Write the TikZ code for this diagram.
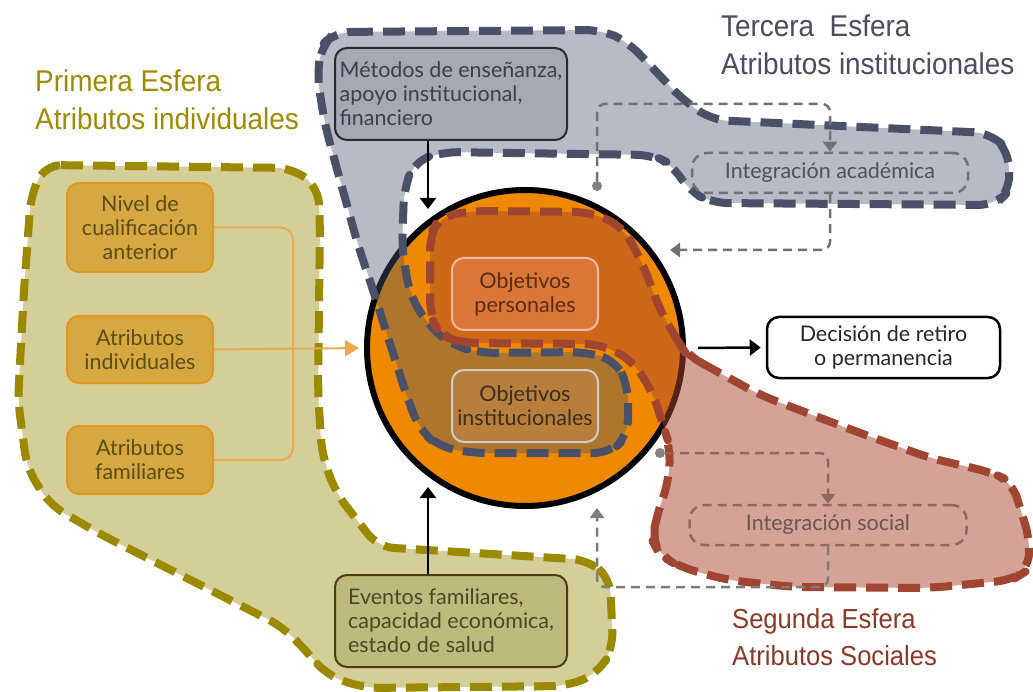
\documentclass[tikz,border=0pt]{standalone}
\usepackage{fontspec}
\usetikzlibrary{arrows.meta}
\newfontfamily\boxfont{Lato}
\newfontfamily\labfont[FakeStretch=0.93]{Liberation Sans}
\definecolor{olivefill}{RGB}{212,206,152}
\definecolor{oliveline}{RGB}{155,137,0}
\definecolor{grayfillc}{RGB}{77,87,112}
\definecolor{grayline}{RGB}{74,80,104}
\definecolor{pinkfillc}{RGB}{173,71,51}
\definecolor{brownline}{RGB}{160,70,48}
\definecolor{circfill}{RGB}{239,138,0}
\definecolor{oboxfill}{RGB}{214,168,66}
\definecolor{oboxline}{RGB}{226,152,32}
\definecolor{oboxtext}{RGB}{92,76,20}
\definecolor{bracketc}{RGB}{236,170,80}
\definecolor{evfill}{RGB}{190,186,126}
\definecolor{evline}{RGB}{72,62,22}
\definecolor{evtext}{RGB}{75,70,35}
\definecolor{mefill}{RGB}{166,169,179}
\definecolor{meline}{RGB}{40,42,50}
\definecolor{metext}{RGB}{58,62,78}
\definecolor{opfill}{RGB}{218,119,56}
\definecolor{opline}{RGB}{242,184,160}
\definecolor{optext}{RGB}{92,44,18}
\definecolor{oifill}{RGB}{184,127,60}
\definecolor{oiline}{RGB}{205,205,205}
\definecolor{oitext}{RGB}{58,46,30}
\definecolor{acadc}{RGB}{112,112,118}
\definecolor{acadtext}{RGB}{80,80,86}
\definecolor{socc}{RGB}{140,104,95}
\definecolor{soctext}{RGB}{104,86,80}
\definecolor{dlinec}{RGB}{125,125,125}
\definecolor{dotc}{RGB}{130,130,130}
\definecolor{primc}{RGB}{160,138,0}
\definecolor{terc}{RGB}{72,77,95}
\definecolor{segc}{RGB}{140,56,40}
\tikzset{
  region/.style={line width=8pt, dash pattern=on 22pt off 10pt, line join=round, rounded corners=16pt},
  bfont/.style={font=\boxfont\fontsize{21.5}{24}\selectfont},
  obox/.style={bfont, rounded corners=12pt, fill=oboxfill, draw=oboxline, line width=2pt, text=oboxtext, align=center, inner sep=0pt, minimum width=146pt},
  evbox/.style={bfont, rounded corners=12pt, fill=evfill, draw=evline, line width=2pt, text=evtext, align=left, inner sep=0pt, minimum width=232pt, minimum height=92pt},
  mebox/.style={bfont, rounded corners=12pt, fill=mefill, draw=meline, line width=2pt, text=metext, align=left, inner sep=0pt, minimum width=232pt, minimum height=92pt},
  opbox/.style={bfont, rounded corners=12pt, fill=opfill, draw=opline, line width=2pt, text=optext, align=center, inner sep=0pt, minimum width=146pt, minimum height=72pt},
  oibox/.style={bfont, rounded corners=12pt, fill=oifill, draw=oiline, line width=2pt, text=oitext, align=center, inner sep=0pt, minimum width=146pt, minimum height=72pt},
  decbox/.style={bfont, rounded corners=12pt, fill=white, draw=black, line width=2.5pt, text=black!85, align=center, inner sep=0pt, minimum width=233pt, minimum height=61pt},
  intbox/.style={bfont, rounded corners=15pt, line width=2.5pt, dash pattern=on 9pt off 6pt, inner sep=0pt, minimum height=40pt},
  dotn/.style={circle, fill=dotc, inner sep=0pt, minimum size=10pt},
  blackarrow/.style={line width=2.5pt, -{Triangle[length=11pt,width=16pt]}},
  conn/.style={line width=2.5pt, dash pattern=on 9pt off 6pt, rounded corners=8pt},
  gtip/.style={-{Triangle[length=10pt,width=14pt]}},
  lab/.style={font=\labfont\fontsize{30}{38}\selectfont, align=left, inner sep=0pt, anchor=base west},
  labsmall/.style={font=\labfont\fontsize{27.5}{37}\selectfont, align=left, inner sep=0pt, anchor=base west}
}
\begin{document}
\begin{tikzpicture}[x=1pt,y=-1pt]
\useasboundingbox (0,0) rectangle (1033,692);
\fill[white] (0,0) rectangle (1033,692);
% Primera esfera region
\path[region, fill=olivefill, draw=oliveline]
  (45,165) -- (292,168) -- (318,187) -- (320,222) -- (318,392) -- (322,455) -- (336,493) -- (378,547)
  -- (588,560) -- (610,578) -- (613,648) -- (598,673) -- (568,686) -- (365,688) -- (328,676)
  -- (307,652) -- (283,627) -- (100,534) -- (50,505) -- (27,468) -- (18,400) -- (24,290) -- (31,195) -- cycle;
% central circle
\node[circle, minimum size=316pt, inner sep=0pt, fill=circfill, draw=black, line width=6pt] (circ) at (525,348) {};
% Tercera esfera region
\path[region, fill=grayfillc, fill opacity=0.4, draw=grayline, draw opacity=1]
  (335,32) -- (602,30) -- (628,42) -- (683,100) -- (712,120) -- (990,133) -- (1008,150) -- (1010,190)
  -- (995,205) -- (712,203) -- (688,190) -- (673,165) -- (652,155) -- (442,152) -- (414,162)
  -- (404,190) -- (402,250) -- (410,295) -- (428,325) -- (452,345) -- (480,353) -- (585,352)
  -- (615,360) -- (628,385) -- (628,435) -- (610,453) -- (470,453) -- (438,446) -- (420,430)
  -- (408,400) -- (393,353) -- (373,290) -- (358,245) -- (340,180) -- (325,125) -- (317,75) -- (322,45) -- cycle;
% Segunda esfera region
\path[region, fill=pinkfillc, fill opacity=0.5, draw=brownline, draw opacity=1]
  (687,355) -- (760,395) -- (860,433) -- (930,458) -- (990,472) -- (1012,482) -- (1030,540) -- (1028,570)
  -- (1012,580) -- (930,588) -- (793,587) -- (727,580) -- (680,567) -- (660,555) -- (652,540)
  -- (657,515) -- (669,480) -- (670,447) -- (663,425) -- (653,393) -- (632,360) -- (600,344)
  -- (462,343) -- (440,335) -- (430,315) -- (430,235) -- (440,217) -- (470,211) -- (590,212)
  -- (622,226) -- (642,262) -- (660,310) -- (677,340) -- cycle;
% labels (anchor = baseline of last line)
\node[lab, text=primc] (lab1) at (35,130) {Primera Esfera\\Atributos individuales};
\node[lab, text=terc] (lab3) at (721,75) {Tercera\ \ Esfera\\Atributos institucionales};
\node[labsmall, text=segc] (lab2) at (732,665) {Segunda Esfera\\Atributos Sociales};
% boxes
\node[obox, minimum height=89pt] (nivel) at (140,227.5) {Nivel de\\cualificación\\anterior};
\node[obox, minimum height=67pt] (indiv) at (140,349.5) {Atributos\\individuales};
\node[obox, minimum height=68pt] (famil) at (140,460) {Atributos\\familiares};
\node[mebox] (metodos) at (451,94) {Métodos de enseñanza,\\apoyo institucional,\\financiero};
\node[evbox] (eventos) at (451,621) {Eventos familiares,\\capacidad económica,\\estado de salud};
\node[opbox] (opers) at (525,294) {Objetivos\\personales};
\node[oibox] (oinst) at (525,406) {Objetivos\\institucionales};
\node[decbox] (dec) at (883.5,347.5) {Decisión de retiro\\o permanencia};
\node[intbox, draw=acadc, text=acadtext, minimum width=276pt] (acad) at (830,173) {Integración académica};
\node[intbox, draw=socc, text=soctext, minimum width=277pt] (soc) at (828,525) {Integración social};
% bracket and orange arrow
\draw[bracketc, line width=2pt, rounded corners=12pt] (nivel.east) -- (293,227.5) -- (293,460) -- (famil.east);
\draw[bracketc, line width=2pt, -{Triangle[length=14pt,width=16pt]}, shorten >=5pt] (indiv.east) -- (circ.west);
% black arrows
\coordinate (mtip) at (428,209);
\coordinate (etip) at (428,487);
\draw[blackarrow] (metodos.south -| mtip) -- (mtip);
\draw[blackarrow] (eventos.north -| etip) -- (etip);
\draw[blackarrow, shorten <=12pt, shorten >=5pt] (circ.east) -- (dec.west);
% dashed connectors
\node[dotn] (dotA) at (597,186) {};
\node[dotn] (dotC) at (660,453) {};
\coordinate (tipB) at (670,250);
\coordinate (tipD) at (597,508);
\draw[conn, acadc, gtip] (dotA) -- (597,104) -- (830,104) -- (acad.north);
\draw[conn, acadc, gtip] (acad.south) |- (tipB);
\draw[conn, socc, gtip] (dotC) -| (soc.north);
\draw[conn, dlinec, gtip] (soc.south) -- (828,587) -- (597,587) -- (tipD);
\end{tikzpicture}
\end{document}
